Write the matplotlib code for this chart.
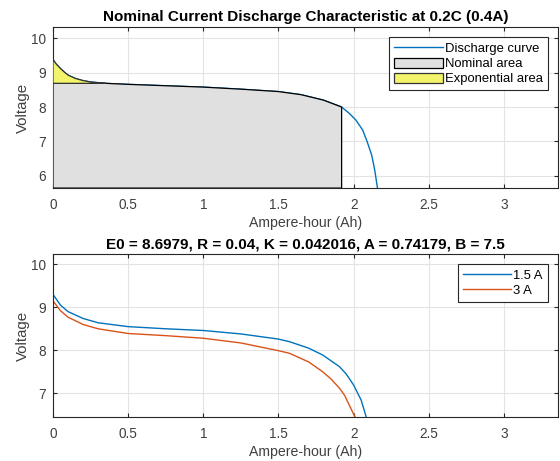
import numpy as np
import matplotlib.pyplot as plt

plt.rcParams['font.family'] = ['Liberation Sans', 'DejaVu Sans']

# nominal discharge curve (0.4 A)
ah_nom = [0, 0.02, 0.05, 0.08, 0.1, 0.15, 0.2, 0.25, 0.3, 0.35, 0.4, 0.5, 0.75, 1.0,
          1.25, 1.5, 1.65, 1.8, 1.92, 1.97, 2.015, 2.06, 2.09, 2.12, 2.14, 2.16]
v_nom = [9.38, 9.26, 9.12, 9.0, 8.93, 8.83, 8.77, 8.73, 8.71, 8.69, 8.68, 8.66, 8.62, 8.58,
         8.52, 8.45, 8.36, 8.2, 8.0, 7.82, 7.62, 7.33, 6.99, 6.6, 6.17, 5.6]
v_exp = 8.69        # bottom of the exponential area
ah_nom_end = 1.92   # end of the nominal area

# discharge at 1.5 A and 3 A
ah_15 = [0, 0.05, 0.1, 0.2, 0.3, 0.5, 0.75, 1.0, 1.25, 1.5, 1.573, 1.7, 1.794, 1.905,
         1.95, 2.0, 2.05, 2.086]
v_15 = [9.30, 9.05, 8.90, 8.74, 8.64, 8.55, 8.50, 8.46, 8.38, 8.26, 8.20, 8.05, 7.89, 7.62,
        7.45, 7.19, 6.84, 6.42]
ah_3 = [0, 0.05, 0.1, 0.2, 0.3, 0.5, 0.75, 1.0, 1.25, 1.5, 1.573, 1.7, 1.794, 1.85, 1.905,
        1.94, 1.97, 2.01]
v_3 = [9.15, 8.92, 8.77, 8.60, 8.50, 8.39, 8.34, 8.28, 8.17, 7.99, 7.93, 7.73, 7.50, 7.33,
       7.12, 6.95, 6.73, 6.44]

title_top = 'Nominal Current Discharge Characteristic at 0.2C (0.4A)'
title_bot = 'E0 = 8.6979, R = 0.04, K = 0.042016, A = 0.74179, B = 7.5'
xticks = [0, 0.5, 1, 1.5, 2, 2.5, 3]

blue = '#0072BD'
orange = '#D95319'
axcol = '#262626'
labcol = '#404040'


def style(ax, ylim, yticks):
    ax.set_xlim(0, 3.36)
    ax.set_ylim(*ylim)
    ax.set_xticks(xticks)
    ax.set_xticklabels(['0', '0.5', '1', '1.5', '2', '2.5', '3'])
    ax.set_yticks(yticks)
    ax.grid(True, color='#e3e3e3', linewidth=0.8)
    ax.set_axisbelow(True)
    ax.tick_params(direction='in', top=True, right=True, color=axcol,
                   labelcolor=labcol, labelsize=9.8, length=3)
    ax.tick_params(axis='x', pad=7)
    ax.tick_params(axis='y', pad=5)
    for s in ax.spines.values():
        s.set_color(axcol)
        s.set_linewidth(0.8)
    ax.set_xlabel('Ampere-hour (Ah)', fontsize=10.2, color=labcol, labelpad=3)
    ax.set_ylabel('Voltage', fontsize=10.8, color=labcol, labelpad=1)


def legend(ax):
    leg = ax.legend(loc='upper right', fontsize=9.4, handlelength=3.7,
                    handleheight=0.8, fancybox=False, framealpha=1,
                    edgecolor=axcol, borderpad=0.38, labelspacing=0.2,
                    handletextpad=0.15, borderaxespad=0.8)
    leg.get_frame().set_linewidth(0.8)
    return leg


fig = plt.figure(figsize=(5.6, 4.61), dpi=100)
ax1 = fig.add_axes([0.0946, 0.592, 0.902, 0.3494])
ax2 = fig.add_axes([0.0946, 0.0948, 0.902, 0.3542])

# top panel
x = np.array(ah_nom)
v = np.array(v_nom)
ylim1 = (5.64, 10.33)
style(ax1, ylim1, [6, 7, 8, 9, 10])
ax1.plot(x, v, color=blue, lw=1.0, label='Discharge curve', zorder=2)

m = x <= ah_nom_end
xn = x[m]
vn = np.minimum(v[m], v_exp)
px = np.concatenate([[0], xn, [ah_nom_end, 0]])
py = np.concatenate([[ylim1[0]], vn, [ylim1[0], ylim1[0]]])
ax1.fill(px, py, facecolor='#e0e0e0', edgecolor='black', lw=0.9,
         label='Nominal area', zorder=3)

me = v >= v_exp
xe = x[me]
ve = v[me]
ex = np.concatenate([xe, [xe[-1], 0]])
ey = np.concatenate([ve, [v_exp, v_exp]])
ax1.fill(ex, ey, facecolor='#f4f46c', edgecolor='#333333', lw=0.9,
         label='Exponential area', zorder=3)

legend(ax1)
ax1.set_title(title_top, fontsize=11, fontweight='bold', color='black', pad=4)

# bottom panel
style(ax2, (6.44, 10.24), [7, 8, 9, 10])
ax2.plot(ah_15, v_15, color=blue, lw=1.0, label='1.5 A')
ax2.plot(ah_3, v_3, color=orange, lw=1.0, label='3 A')
legend(ax2)
ax2.set_title(title_bot, fontsize=11, fontweight='bold', color='black', pad=4)

fig.savefig('out.png', dpi=100)
